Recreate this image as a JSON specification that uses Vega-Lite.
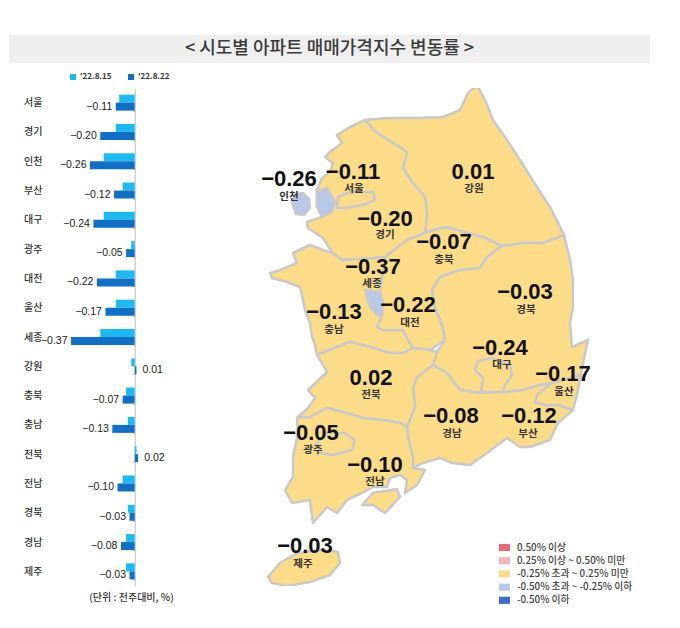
{"$schema":"https://vega.github.io/schema/vega-lite/v6.json","padding":{"left":9,"top":35,"right":0,"bottom":0},"background":"white","bounds":"flush","spacing":25,"config":{"view":{"stroke":null},"font":"Noto Sans CJK KR"},"resolve":{"scale":{"color":"independent"},"legend":{"color":"independent"}},"datasets":{"bars":[
{"region":"서울","week":"'22.8.15","value":-0.09},{"region":"서울","week":"'22.8.22","value":-0.11},
{"region":"경기","week":"'22.8.15","value":-0.11},{"region":"경기","week":"'22.8.22","value":-0.20},
{"region":"인천","week":"'22.8.15","value":-0.18},{"region":"인천","week":"'22.8.22","value":-0.26},
{"region":"부산","week":"'22.8.15","value":-0.07},{"region":"부산","week":"'22.8.22","value":-0.12},
{"region":"대구","week":"'22.8.15","value":-0.18},{"region":"대구","week":"'22.8.22","value":-0.24},
{"region":"광주","week":"'22.8.15","value":-0.02},{"region":"광주","week":"'22.8.22","value":-0.05},
{"region":"대전","week":"'22.8.15","value":-0.11},{"region":"대전","week":"'22.8.22","value":-0.22},
{"region":"울산","week":"'22.8.15","value":-0.11},{"region":"울산","week":"'22.8.22","value":-0.17},
{"region":"세종","week":"'22.8.15","value":-0.20},{"region":"세종","week":"'22.8.22","value":-0.37},
{"region":"강원","week":"'22.8.15","value":-0.02},{"region":"강원","week":"'22.8.22","value":0.01},
{"region":"충북","week":"'22.8.15","value":-0.05},{"region":"충북","week":"'22.8.22","value":-0.07},
{"region":"충남","week":"'22.8.15","value":-0.04},{"region":"충남","week":"'22.8.22","value":-0.13},
{"region":"전북","week":"'22.8.15","value":0.01},{"region":"전북","week":"'22.8.22","value":0.02},
{"region":"전남","week":"'22.8.15","value":-0.07},{"region":"전남","week":"'22.8.22","value":-0.10},
{"region":"경북","week":"'22.8.15","value":-0.04},{"region":"경북","week":"'22.8.22","value":-0.03},
{"region":"경남","week":"'22.8.15","value":-0.05},{"region":"경남","week":"'22.8.22","value":-0.08},
{"region":"제주","week":"'22.8.15","value":-0.05},{"region":"제주","week":"'22.8.22","value":-0.03}],
"labels":[
{"region":"인천","value":-0.26,"lon":124.89,"lat":38.21,"nlon":124.89,"nlat":38.03},
{"region":"서울","value":-0.11,"lon":125.53,"lat":38.28,"nlon":125.54,"nlat":38.11},
{"region":"강원","value":0.01,"lon":126.73,"lat":38.28,"nlon":126.74,"nlat":38.11},
{"region":"경기","value":-0.20,"lon":125.85,"lat":37.81,"nlon":125.85,"nlat":37.65},
{"region":"충북","value":-0.07,"lon":126.44,"lat":37.58,"nlon":126.44,"nlat":37.40},
{"region":"세종","value":-0.37,"lon":125.73,"lat":37.33,"nlon":125.72,"nlat":37.16},
{"region":"대전","value":-0.22,"lon":126.08,"lat":36.95,"nlon":126.10,"nlat":36.77},
{"region":"충남","value":-0.13,"lon":125.34,"lat":36.88,"nlon":125.34,"nlat":36.70},
{"region":"경북","value":-0.03,"lon":127.25,"lat":37.08,"nlon":127.26,"nlat":36.90},
{"region":"대구","value":-0.24,"lon":127.00,"lat":36.52,"nlon":127.02,"nlat":36.35},
{"region":"울산","value":-0.17,"lon":127.63,"lat":36.26,"nlon":127.64,"nlat":36.08},
{"region":"전북","value":0.02,"lon":125.71,"lat":36.22,"nlon":125.71,"nlat":36.05},
{"region":"경남","value":-0.08,"lon":126.51,"lat":35.84,"nlon":126.52,"nlat":35.66},
{"region":"부산","value":-0.12,"lon":127.29,"lat":35.84,"nlon":127.28,"nlat":35.66},
{"region":"광주","value":-0.05,"lon":125.11,"lat":35.67,"nlon":125.13,"nlat":35.50},
{"region":"전남","value":-0.10,"lon":125.75,"lat":35.35,"nlon":125.75,"nlat":35.18},
{"region":"제주","value":-0.03,"lon":125.05,"lat":34.54,"nlon":125.03,"nlat":34.36}],
"regions":[
{"type":"Feature","properties":{"name":"강원","cls":"-0.25% 초과 ~ 0.25% 미만"},"geometry":{"type":"Polygon","coordinates":[[[125.65,38.80],[125.87,38.82],[126.17,38.82],[126.43,38.83],[126.60,38.90],[126.68,39.07],[126.77,39.15],[126.85,39.00],[126.93,38.80],[127.07,38.60],[127.20,38.40],[127.37,38.13],[127.50,37.93],[127.64,37.65],[127.43,37.57],[127.23,37.57],[127.02,37.54],[126.83,37.63],[126.63,37.68],[126.47,37.73],[126.33,37.70],[126.25,37.67],[126.27,37.87],[126.25,38.03],[126.12,38.18],[126.03,38.32],[126.07,38.48],[125.93,38.57],[125.77,38.67],[125.65,38.80]]]}},
{"type":"Feature","properties":{"name":"경기","cls":"-0.25% 초과 ~ 0.25% 미만"},"geometry":{"type":"Polygon","coordinates":[[[125.65,38.80],[125.50,38.73],[125.37,38.65],[125.42,38.57],[125.30,38.48],[125.25,38.43],[125.33,38.37],[125.30,38.28],[125.22,38.22],[125.17,38.10],[125.17,37.95],[125.22,37.83],[125.07,37.78],[125.08,37.72],[125.23,37.62],[125.32,37.48],[125.42,37.40],[125.62,37.41],[125.85,37.43],[126.07,37.60],[126.25,37.67],[126.27,37.87],[126.25,38.03],[126.12,38.18],[126.03,38.32],[126.07,38.48],[125.93,38.57],[125.77,38.67],[125.65,38.80]]]}},
{"type":"Feature","properties":{"name":"서울","cls":"-0.25% 초과 ~ 0.25% 미만"},"geometry":{"type":"Polygon","coordinates":[[[125.38,38.03],[125.50,38.08],[125.73,38.08],[125.75,38.00],[125.63,37.95],[125.47,37.92],[125.37,37.92],[125.38,38.03]]]}},
{"type":"Feature","properties":{"name":"인천","cls":"-0.50% 초과 ~ -0.25% 이하"},"geometry":{"type":"MultiPolygon","coordinates":[[[[125.17,38.08],[125.27,38.12],[125.35,37.98],[125.32,37.88],[125.22,37.83],[125.17,37.93],[125.17,38.08]]],[[[124.92,37.97],[124.96,38.06],[125.03,38.07],[125.09,38.01],[125.10,37.92],[125.04,37.85],[124.96,37.86],[124.92,37.97]]]]}},
{"type":"Feature","properties":{"name":"충남","cls":"-0.25% 초과 ~ 0.25% 미만"},"geometry":{"type":"Polygon","coordinates":[[[124.93,37.47],[125.10,37.55],[125.23,37.50],[125.32,37.47],[125.42,37.40],[125.62,37.41],[125.85,37.43],[125.80,37.08],[125.83,36.98],[125.82,36.83],[125.77,36.73],[125.83,36.70],[126.03,36.70],[126.08,36.60],[126.13,36.52],[126.03,36.47],[125.90,36.47],[125.70,36.53],[125.50,36.58],[125.37,36.53],[125.17,36.45],[125.15,36.55],[125.12,36.63],[125.10,36.77],[125.05,36.90],[125.03,37.00],[125.00,37.13],[124.87,37.18],[124.72,37.22],[124.70,37.27],[124.80,37.30],[124.97,37.37],[124.93,37.47]]]}},
{"type":"Feature","properties":{"name":"세종","cls":"-0.50% 초과 ~ -0.25% 이하"},"geometry":{"type":"Polygon","coordinates":[[[125.65,37.10],[125.80,37.08],[125.83,36.98],[125.82,36.83],[125.77,36.85],[125.70,36.93],[125.67,37.03],[125.65,37.10]]]}},
{"type":"Feature","properties":{"name":"충북","cls":"-0.25% 초과 ~ 0.25% 미만"},"geometry":{"type":"Polygon","coordinates":[[[126.25,37.67],[126.33,37.70],[126.47,37.73],[126.63,37.68],[126.83,37.63],[127.02,37.54],[126.87,37.43],[126.80,37.32],[126.60,37.30],[126.40,37.23],[126.32,37.10],[126.35,36.93],[126.43,36.72],[126.45,36.60],[126.30,36.50],[126.13,36.52],[126.08,36.60],[126.03,36.70],[125.83,36.70],[125.77,36.73],[125.82,36.83],[125.83,36.98],[125.80,37.08],[125.85,37.43],[126.07,37.60],[126.25,37.67]]]}},
{"type":"Feature","properties":{"name":"경북","cls":"-0.25% 초과 ~ 0.25% 미만"},"geometry":{"type":"Polygon","coordinates":[[[127.64,37.65],[127.70,37.40],[127.73,37.20],[127.73,36.93],[127.70,36.77],[127.72,36.53],[127.88,36.60],[127.83,36.37],[127.81,36.25],[127.52,36.17],[127.40,36.15],[127.23,36.10],[127.07,36.08],[126.80,36.07],[126.60,36.10],[126.47,36.27],[126.33,36.35],[126.37,36.48],[126.45,36.60],[126.43,36.72],[126.35,36.93],[126.32,37.10],[126.40,37.23],[126.60,37.30],[126.80,37.32],[126.87,37.43],[127.02,37.54],[127.23,37.57],[127.43,37.57],[127.64,37.65]]]}},
{"type":"Feature","properties":{"name":"대구","cls":"-0.25% 초과 ~ 0.25% 미만"},"geometry":{"type":"Polygon","coordinates":[[[126.78,36.39],[126.92,36.42],[127.10,36.35],[127.12,36.25],[127.05,36.15],[127.03,36.08],[126.81,36.08],[126.83,36.22],[126.75,36.30],[126.78,36.39]]]}},
{"type":"Feature","properties":{"name":"경남","cls":"-0.25% 초과 ~ 0.25% 미만"},"geometry":{"type":"Polygon","coordinates":[[[126.33,36.35],[126.47,36.27],[126.60,36.10],[126.80,36.07],[127.07,36.08],[127.23,36.10],[127.40,36.15],[127.52,36.17],[127.37,36.05],[127.35,35.98],[127.47,35.95],[127.58,35.95],[127.73,35.90],[127.58,35.77],[127.50,35.60],[127.30,35.53],[127.20,35.53],[127.07,35.62],[126.87,35.47],[126.70,35.35],[126.52,35.37],[126.40,35.42],[126.23,35.37],[126.13,35.32],[126.13,35.43],[126.08,35.63],[126.07,35.73],[126.15,35.93],[126.13,36.13],[126.17,36.23],[126.33,36.35]]]}},
{"type":"Feature","properties":{"name":"울산","cls":"-0.25% 초과 ~ 0.25% 미만"},"geometry":{"type":"Polygon","coordinates":[[[127.52,36.17],[127.37,36.05],[127.35,35.98],[127.47,35.95],[127.58,35.95],[127.73,35.90],[127.78,36.10],[127.81,36.25],[127.52,36.17]]]}},
{"type":"Feature","properties":{"name":"전북","cls":"-0.25% 초과 ~ 0.25% 미만"},"geometry":{"type":"Polygon","coordinates":[[[125.17,36.45],[125.37,36.53],[125.50,36.58],[125.70,36.53],[125.90,36.47],[126.03,36.47],[126.13,36.52],[126.30,36.50],[126.37,36.48],[126.33,36.35],[126.17,36.23],[126.13,36.13],[126.15,35.93],[126.07,35.73],[126.00,35.77],[125.83,35.80],[125.63,35.82],[125.43,35.88],[125.27,35.92],[125.10,35.83],[124.97,35.82],[125.08,35.92],[125.15,36.02],[125.08,36.10],[125.27,36.28],[125.23,36.35],[125.17,36.45]]]}},
{"type":"Feature","properties":{"name":"전남","cls":"-0.25% 초과 ~ 0.25% 미만"},"geometry":{"type":"MultiPolygon","coordinates":[[[[124.97,35.82],[124.98,35.67],[124.93,35.43],[124.93,35.23],[124.85,35.10],[124.92,34.97],[125.10,35.00],[125.13,34.77],[125.27,34.93],[125.37,34.87],[125.47,35.00],[125.62,35.07],[125.73,35.13],[125.87,35.13],[125.90,35.22],[126.00,35.25],[126.07,35.20],[126.05,35.07],[126.17,35.15],[126.25,35.30],[126.13,35.32],[126.13,35.43],[126.08,35.63],[126.07,35.73],[126.00,35.77],[125.83,35.80],[125.63,35.82],[125.43,35.88],[125.27,35.92],[125.10,35.83],[124.97,35.82]]],[[[125.62,34.95],[125.73,35.07],[125.97,35.11],[126.00,35.03],[125.85,34.87],[125.73,34.95],[125.62,34.95]]]]}},
{"type":"Feature","properties":{"name":"광주","cls":"-0.25% 초과 ~ 0.25% 미만"},"geometry":{"type":"Polygon","coordinates":[[[125.27,35.67],[125.45,35.67],[125.55,35.60],[125.52,35.50],[125.33,35.45],[125.20,35.47],[125.17,35.57],[125.27,35.67]]]}},
{"type":"Feature","properties":{"name":"제주","cls":"-0.25% 초과 ~ 0.25% 미만"},"geometry":{"type":"Polygon","coordinates":[[[124.68,34.23],[124.80,34.37],[124.97,34.47],[125.23,34.50],[125.38,34.48],[125.40,34.37],[125.30,34.25],[125.10,34.18],[124.87,34.14],[124.72,34.17],[124.68,34.23]]]}}
]},
"vconcat":[
{"width":641,"height":28,"view":{"fill":"#EFEFEF","stroke":null},"data":{"values":[{"title":"<  시도별  아파트  매매가격지수  변동률  >"}]},"mark":{"type":"text","font":"Noto Sans CJK KR","fontSize":18,"fontWeight":500,"fill":"#3a3a3a"},"encoding":{"text":{"field":"title"}}},
{"resolve":{"scale":{"color":"independent"},"legend":{"color":"independent"}},"hconcat":[
{"width":150,"height":498,"data":{"name":"bars"},
"encoding":{"y":{"field":"region","type":"nominal","sort":null,"title":null,"scale":{"domain":["서울","경기","인천","부산","대구","광주","대전","울산","세종","강원","충북","충남","전북","전남","경북","경남","제주"],"paddingInner":0.454,"paddingOuter":0.227},"axis":{"offset":-125.7,"tickBand":"extent","tickSize":2,"tickColor":"#BDBDBD","domainColor":"#BDBDBD","domainWidth":1,"labelAlign":"center","labelPadding":100,"labelFont":"Noto Sans CJK KR","labelFontSize":10,"labelFontWeight":500,"labelColor":"#333333"}},
"x":{"field":"value","type":"quantitative","scale":{"domain":[-0.7308,0.1413],"nice":false,"zero":false},"axis":{"domain":false,"ticks":false,"labels":false,"grid":false,"title":"(단위 : 전주대비, %)","titleX":122,"titleY":6,"titleAlign":"center","titleAnchor":"middle","titleFont":"Noto Sans CJK KR","titleFontSize":10,"titleFontWeight":500,"titleColor":"#333333"}},
"yOffset":{"field":"week","type":"nominal","sort":null,"scale":{"domain":["'22.8.15","'22.8.22"],"paddingInner":0,"paddingOuter":0}}},
"layer":[
{"mark":{"type":"bar"},"encoding":{"color":{"field":"week","type":"nominal","scale":{"domain":["'22.8.15","'22.8.22"],"range":["#1FB9F2","#1270C4"]},"legend":{"title":null,"orient":"none","legendX":60,"legendY":-15,"direction":"horizontal","columns":2,"columnPadding":15,"symbolType":"square","symbolSize":36,"symbolStrokeWidth":0,"labelFont":"Noto Sans CJK KR","labelFontSize":8,"labelFontWeight":700,"labelColor":"#333333","labelOffset":3,"padding":0}}}},
{"transform":[{"filter":"datum.week==\"'22.8.22\" && datum.value<0"}],"mark":{"type":"text","align":"right","dx":-3.5,"font":"Liberation Sans","fontSize":10.5,"fill":"#222222"},"encoding":{"text":{"field":"value","type":"quantitative","format":".2f"}}},
{"transform":[{"filter":"datum.week==\"'22.8.22\" && datum.value>0"}],"mark":{"type":"text","align":"left","dx":6,"font":"Liberation Sans","fontSize":10.5,"fill":"#222222"},"encoding":{"text":{"field":"value","type":"quantitative","format":".2f"}}}
]},
{"width":521,"height":498,"projection":{"type":"identity","reflectY":true,"scale":100,"translate":[-12359,3912]},
"layer":[
{"data":{"name":"regions"},"mark":{"type":"geoshape","stroke":"#C9C9C9","strokeWidth":2.5,"strokeJoin":"round"},"encoding":{"color":{"field":"properties.cls","type":"nominal","scale":{"domain":["\u00a0\u00a00.50% 이상","\u00a0\u00a00.25% 이상 ~ 0.50% 미만","-0.25% 초과 ~ 0.25% 미만","-0.50% 초과 ~ -0.25% 이하","-0.50% 이하"],"range":["#E8697D","#F3B6BC","#FCDC88","#B7C8E8","#3F6CC4"]},"legend":{"title":null,"orient":"none","legendX":340,"legendY":454,"rowPadding":2.2,"symbolType":"M-1,-0.65H1V0.65H-1Z","symbolSize":121,"symbolStrokeWidth":0,"labelFont":"Noto Sans CJK KR","labelFontSize":9.8,"labelFontWeight":500,"labelColor":"#444444","labelOffset":7,"padding":0}}}},
{"data":{"name":"labels"},"mark":{"type":"text","font":"Liberation Sans","fontSize":22,"fontWeight":"bold","fill":"#111111"},"encoding":{"longitude":{"field":"lon","type":"quantitative"},"latitude":{"field":"lat","type":"quantitative"},"text":{"field":"value","type":"quantitative","format":".2f"}}},
{"data":{"name":"labels"},"mark":{"type":"text","font":"Noto Sans CJK KR","fontSize":10.5,"fontWeight":700,"fill":"#333333"},"encoding":{"longitude":{"field":"nlon","type":"quantitative"},"latitude":{"field":"nlat","type":"quantitative"},"text":{"field":"region","type":"nominal"}}}
]}
],"spacing":0,"bounds":"flush"}
]}
